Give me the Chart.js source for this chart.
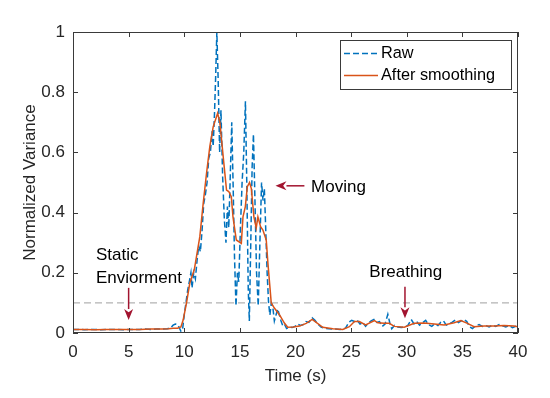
<!DOCTYPE html>
<html>
<head>
<meta charset="utf-8">
<script src="https://cdn.jsdelivr.net/npm/chart.js@4.4.1/dist/chart.umd.min.js"></script>
<style>
  html, body { margin: 0; padding: 0; background: #fff; }
  #wrap { width: 550px; height: 398px; position: relative; }
</style>
</head>
<body>
<div id="wrap"><canvas id="chart"></canvas></div>
<script>
// values
const rawTime = [0, 0.5, 1, 1.5, 2, 2.5, 3, 3.5, 4, 4.5, 5, 5.5, 6, 6.5, 7, 7.5, 8, 8.5, 8.8, 9.0,
  9.2, 9.4, 9.55, 9.7, 9.85, 10.0, 10.15, 10.3, 10.45, 10.6, 10.7, 10.85, 11.0, 11.15, 11.3, 11.45, 11.6, 11.75, 11.9, 12.05,
  12.2, 12.35, 12.5, 12.6, 12.72, 12.83, 12.93, 13.05, 13.18, 13.3, 13.45, 13.6, 13.75, 13.88, 14.0, 14.12, 14.27, 14.4, 14.52, 14.65,
  14.78, 14.9, 15.05, 15.2, 15.35, 15.5, 15.62, 15.75, 15.85, 15.98, 16.1, 16.22, 16.35, 16.5, 16.65, 16.8, 16.95, 17.08, 17.2, 17.32,
  17.45, 17.58, 17.7, 17.82, 17.95, 18.1, 18.25, 18.4, 18.55, 18.7, 18.85, 19.0, 19.2, 19.45, 19.7, 19.95, 20.2, 20.45, 20.7, 20.95,
  21.2, 21.5, 21.75, 22.0, 22.3, 22.6, 23.0, 23.5, 24.0, 24.5, 24.8, 25.05, 25.3, 25.55, 25.8, 26.05, 26.3, 26.55, 26.8, 27.05,
  27.3, 27.55, 27.8, 28.05, 28.3, 28.5, 28.65, 28.9, 29.2, 29.5, 29.8, 30.1, 30.4, 30.65, 30.9, 31.15, 31.4, 31.7, 31.95, 32.25,
  32.5, 32.8, 33.05, 33.3, 33.55, 33.8, 34.1, 34.4, 34.65, 34.9, 35.15, 35.4, 35.65, 35.9, 36.2, 36.5, 36.8, 37.1, 37.4, 37.7,
  38.0, 38.3, 38.6, 38.9, 39.2, 39.5, 39.8, 40.0];
const rawValue = [0.012, 0.012, 0.011, 0.012, 0.012, 0.011, 0.012, 0.012, 0.012, 0.011, 0.012, 0.012, 0.012, 0.013, 0.012, 0.013, 0.013, 0.014, 0.018, 0.026,
  0.03, 0.028, 0.018, 0.006, 0.012, 0.06, 0.1, 0.14, 0.17, 0.2, 0.15, 0.2, 0.18, 0.24, 0.29, 0.27, 0.34, 0.43, 0.46, 0.5,
  0.58, 0.6, 0.67, 0.62, 0.73, 0.86, 1.0, 0.84, 0.6, 0.74, 0.52, 0.38, 0.3, 0.42, 0.35, 0.5, 0.7, 0.48, 0.25, 0.09,
  0.2, 0.17, 0.35, 0.5, 0.6, 0.77, 0.5, 0.15, 0.04, 0.3, 0.55, 0.66, 0.45, 0.2, 0.09, 0.3, 0.5, 0.44, 0.48, 0.35,
  0.2, 0.1, 0.06, 0.1, 0.09, 0.04, 0.06, 0.08, 0.06, 0.04, 0.025, 0.03, 0.015, 0.02, 0.018, 0.022, 0.03, 0.025, 0.028, 0.038,
  0.035, 0.05, 0.042, 0.03, 0.02, 0.016, 0.014, 0.013, 0.012, 0.016, 0.036, 0.042, 0.038, 0.042, 0.03, 0.035, 0.022, 0.033, 0.04, 0.045,
  0.035, 0.038, 0.022, 0.03, 0.062, 0.03, 0.014, 0.025, 0.02, 0.018, 0.02, 0.025, 0.045, 0.03, 0.038, 0.026, 0.034, 0.042, 0.028, 0.022,
  0.03, 0.025, 0.035, 0.04, 0.026, 0.03, 0.036, 0.044, 0.035, 0.04, 0.045, 0.038, 0.02, 0.015, 0.024, 0.028, 0.022, 0.025, 0.02, 0.026,
  0.022, 0.028, 0.024, 0.02, 0.025, 0.018, 0.022, 0.02];

const smoothTime = [0, 1, 2, 3, 4, 5, 6, 7, 8, 8.6, 9.0, 9.4, 9.7, 9.9, 10.2, 10.5, 10.9, 11.4, 11.7, 12.0,
  12.3, 12.6, 13.0, 13.2, 13.5, 13.8, 14.0, 14.23, 14.38, 14.68, 15.13, 15.28, 15.49, 15.67, 15.87, 16.03, 16.26, 16.47, 16.62, 16.86,
  17.07, 17.37, 17.52, 17.82, 18.1, 18.57, 19.0, 19.3, 19.8, 20.36, 20.96, 21.5, 21.86, 22.45, 23.35, 24.25, 24.84, 25.3, 25.74, 26.3,
  27.1, 27.4, 27.98, 28.43, 28.88, 29.78, 30.67, 31.57, 32.47, 33.36, 34.26, 34.86, 35.46, 36.05, 36.95, 37.85, 38.74, 39.64, 40];
const smoothValue = [0.012, 0.012, 0.011, 0.012, 0.012, 0.012, 0.012, 0.013, 0.013, 0.014, 0.016, 0.016, 0.02, 0.043, 0.099, 0.166, 0.21, 0.32, 0.43, 0.53,
  0.62, 0.685, 0.73, 0.70, 0.586, 0.475, 0.47, 0.453, 0.386, 0.309, 0.298, 0.386, 0.42, 0.486, 0.5, 0.48, 0.386, 0.349, 0.386, 0.353,
  0.342, 0.309, 0.232, 0.10, 0.083, 0.06, 0.033, 0.019, 0.02, 0.023, 0.032, 0.045, 0.035, 0.019, 0.014, 0.012, 0.021, 0.038, 0.038, 0.027,
  0.041, 0.034, 0.032, 0.032, 0.022, 0.019, 0.032, 0.033, 0.03, 0.027, 0.034, 0.041, 0.032, 0.021, 0.023, 0.023, 0.025, 0.023, 0.021];

const thresholdTime = [0, 40];
const thresholdValue = [0.1, 0.1];

const xTickLabels = ['0', '5', '10', '15', '20', '25', '30', '35', '40'];
const yTickLabels = ['0', '0.2', '0.4', '0.6', '0.8', '1'];
const seriesNames = ['Raw', 'After smoothing'];

// text notes with arrows, in data units
const notes = [
  { lines: ['Static', 'Enviorment'], t: 2.06, v: 0.243, arrow: [5, 0.15, 5, 0.043] },
  { lines: ['Moving'], t: 21.4, v: 0.469, arrow: [20.8, 0.489, 18.2, 0.489] },
  { lines: ['Breathing'], t: 26.64, v: 0.185, arrow: [29.84, 0.154, 29.84, 0.049] }
];

const FONT = '"Liberation Sans", Arial, Helvetica, sans-serif';
const TXT = '#262626';
const BLUE = '#0072BD';
const ORANGE = '#D95319';
const MAROON = '#A2142F';

const toPts = (ts, vs) => ts.map((t, i) => ({ x: t, y: vs[i] }));

const matlabFrame = {
  id: 'matlabFrame',
  afterDraw(chart) {
    const { ctx, chartArea: a, scales: { x, y } } = chart;
    ctx.save();
    // box and inward ticks
    ctx.strokeStyle = '#3a3a3a';
    ctx.lineWidth = 1;
    ctx.strokeRect(a.left + 0.5, a.top + 0.5, a.right - a.left - 1, a.bottom - a.top - 1);
    ctx.beginPath();
    xTickLabels.forEach(l => {
      const px = Math.round(x.getPixelForValue(+l)) + 0.5;
      ctx.moveTo(px, a.bottom); ctx.lineTo(px, a.bottom - 5);
      ctx.moveTo(px, a.top); ctx.lineTo(px, a.top + 5);
    });
    yTickLabels.forEach(l => {
      const py = Math.round(y.getPixelForValue(+l)) + 0.5;
      ctx.moveTo(a.left, py); ctx.lineTo(a.left + 5, py);
      ctx.moveTo(a.right, py); ctx.lineTo(a.right - 5, py);
    });
    ctx.stroke();

    // notes
    ctx.font = '17px ' + FONT;
    ctx.fillStyle = '#000';
    ctx.textAlign = 'left';
    ctx.textBaseline = 'alphabetic';
    notes.forEach(n => {
      const px = x.getPixelForValue(n.t);
      const py = y.getPixelForValue(n.v);
      n.lines.forEach((s, i) => ctx.fillText(s, px, py + i * 23));
      const [t0, v0, t1, v1] = n.arrow;
      const x0 = x.getPixelForValue(t0), y0 = y.getPixelForValue(v0);
      const x1 = x.getPixelForValue(t1), y1 = y.getPixelForValue(v1);
      const ang = Math.atan2(y1 - y0, x1 - x0);
      const hl = 11, hw = 4.5;
      const bx = x1 - hl * Math.cos(ang), by = y1 - hl * Math.sin(ang);
      ctx.strokeStyle = MAROON;
      ctx.fillStyle = MAROON;
      ctx.lineWidth = 1.5;
      ctx.beginPath(); ctx.moveTo(x0, y0); ctx.lineTo(bx, by); ctx.stroke();
      ctx.beginPath();
      ctx.moveTo(x1, y1);
      ctx.lineTo(bx + hw * Math.sin(ang), by - hw * Math.cos(ang));
      ctx.lineTo(x1 - 0.7 * hl * Math.cos(ang), y1 - 0.7 * hl * Math.sin(ang));
      ctx.lineTo(bx - hw * Math.sin(ang), by + hw * Math.cos(ang));
      ctx.closePath(); ctx.fill();
      ctx.fillStyle = '#000';
    });

    // legend
    const lx = 340.5, ly = 40.5, lw = 171, lh = 49;
    ctx.fillStyle = '#fff';
    ctx.fillRect(lx, ly, lw, lh);
    ctx.strokeStyle = '#3a3a3a';
    ctx.lineWidth = 1;
    ctx.strokeRect(lx, ly, lw, lh);
    ctx.lineWidth = 1.5;
    ctx.strokeStyle = BLUE;
    ctx.setLineDash([6, 3]);
    ctx.beginPath(); ctx.moveTo(344, 53.5); ctx.lineTo(378, 53.5); ctx.stroke();
    ctx.setLineDash([]);
    ctx.strokeStyle = ORANGE;
    ctx.beginPath(); ctx.moveTo(344, 75.5); ctx.lineTo(378, 75.5); ctx.stroke();
    ctx.font = '16.3px ' + FONT;
    ctx.fillStyle = '#000';
    ctx.textBaseline = 'middle';
    ctx.fillText(seriesNames[0], 381, 54);
    ctx.fillText(seriesNames[1], 381, 76);
    ctx.restore();
  }
};

new Chart(document.getElementById('chart'), {
  type: 'line',
  data: {
    datasets: [
      { label: seriesNames[1], data: toPts(smoothTime, smoothValue), borderColor: ORANGE, borderWidth: 1.5, pointRadius: 0, tension: 0, order: 1 },
      { label: seriesNames[0], data: toPts(rawTime, rawValue), borderColor: BLUE, borderWidth: 1.5, borderDash: [6, 3], pointRadius: 0, tension: 0, order: 2 },
      { label: 'threshold', data: toPts(thresholdTime, thresholdValue), borderColor: '#b3b3b3', borderWidth: 1.3, borderDash: [7, 4], pointRadius: 0, order: 3 }
    ]
  },
  options: {
    responsive: true,
    maintainAspectRatio: false,
    animation: false,
    layout: { padding: { left: 0, top: 32, right: 32, bottom: 0 } },
    plugins: { legend: { display: false }, tooltip: { enabled: false } },
    scales: {
      x: {
        type: 'linear', min: 0, max: 40,
        grid: { display: false, drawTicks: false },
        border: { display: false },
        ticks: {
          stepSize: 5, padding: 9, color: TXT, font: { family: FONT, size: 17 },
          callback: (v) => xTickLabels[Math.round(v / 5)]
        },
        title: { display: true, text: 'Time (s)', color: TXT, font: { family: FONT, size: 17 }, padding: { top: 2, bottom: 11 } },
        afterFit: s => { s.height = 65; }
      },
      y: {
        min: 0, max: 1,
        grid: { display: false, drawTicks: false },
        border: { display: false },
        ticks: {
          stepSize: 0.2, padding: 8, color: TXT, font: { family: FONT, size: 17 },
          callback: (v) => yTickLabels[Math.round(v / 0.2)]
        },
        title: { display: true, text: 'Normalized Variance', color: TXT, font: { family: FONT, size: 17 }, padding: { top: 20, bottom: 4 } },
        afterFit: s => { s.width = 73; }
      }
    }
  },
  plugins: [matlabFrame]
});
</script>
</body>
</html>
